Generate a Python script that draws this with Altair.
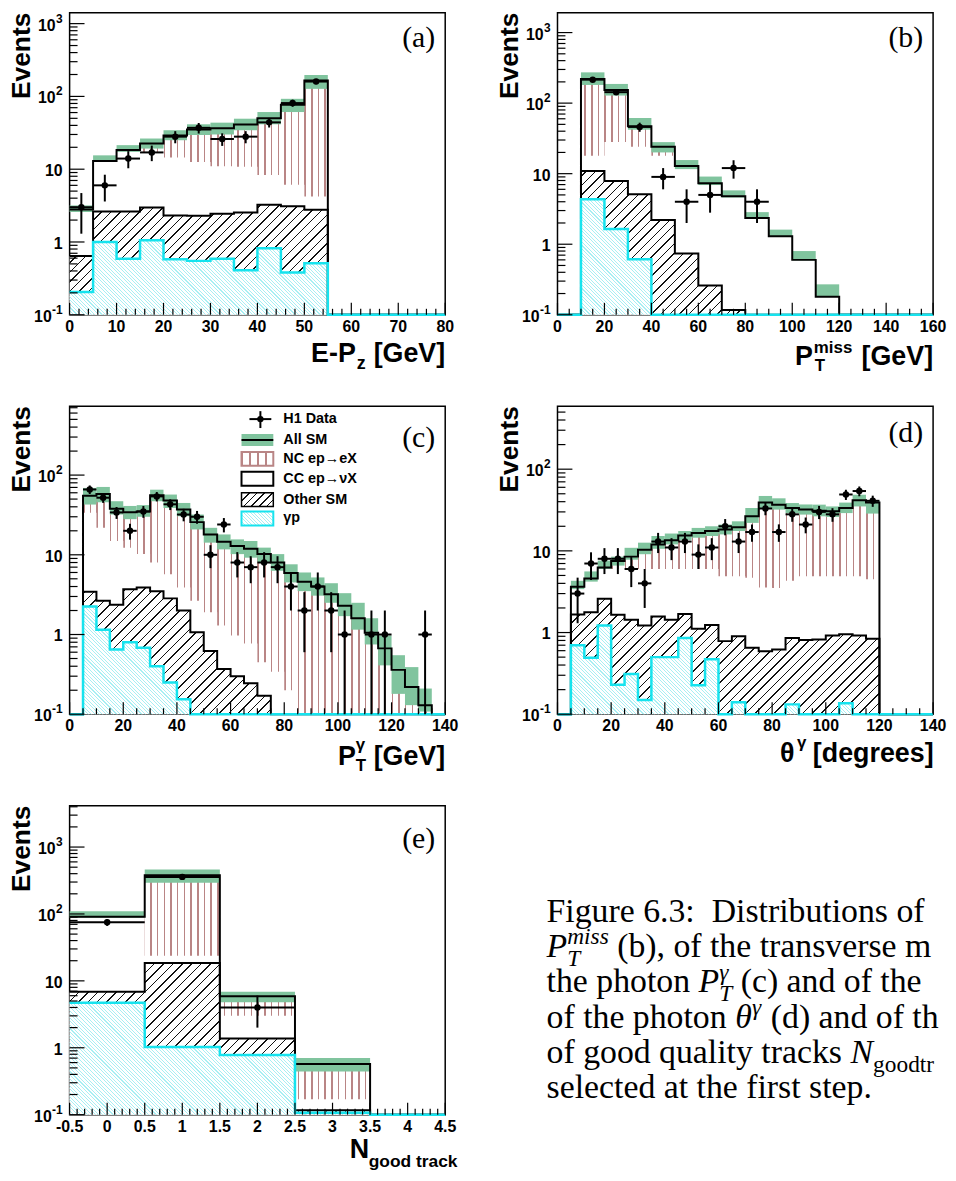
import math
import altair as alt
import pandas as pd

FLOOR = 0.1
Y_DECADES = [0.1, 1, 10, 100, 1000]
Y_BASE = ["10", "1", "10", "10", "10"]
Y_SUP = ["-1", "", "", "2", "3"]

# ---------------- (a) E - Pz ----------------
A_X0, A_BW = 0, 5
A_ALLSM = [2.8, 13.0, 18.3, 22.5, 29, 35, 36.5, 41, 50, 77, 165]
A_BAND_LO = [2.58, 12.6, 17.3, 19.2, 25, 29.5, 30, 34.3, 41.4, 61, 127]
A_BAND_HI = [3.18, 15.5, 21.4, 26.4, 34.3, 41.4, 43.6, 49.4, 61, 92.7, 197]
A_NC_LO = [None, None, None, 17, 14.5, 12.6, 11, 10.8, 8.3, 6.1, 4.2]
A_OTHER = [0.64, 2.63, 2.63, 2.98, 2.32, 2.3, 2.44, 2.55, 3.24, 3.1, 2.77]
A_GAMMAP = [0.206, 1.0, 0.59, 1.06, 0.58, 0.55, 0.59, 0.41, 0.82, 0.38, 0.51]
A_DATA = [3, 6, 14, 17, 28, 37, 26, 28, 44, 81, 160]
A_DATA_ERR = [1.7, 2.4, 3.7, 4.1, 5.3, 6.1, 5.1, 5.3, 6.6, 9.0, 12.6]
A_XTICKS = [0, 10, 20, 30, 40, 50, 60, 70, 80]
A_XMINOR = 2

# ---------------- (b) PT miss ----------------
B_X0, B_BW = 10, 10
B_ALLSM = [220, 154, 47, 24, 12.8, 7.3, 4.8, 2.35, 1.3, 0.6, 0.18]
B_BAND_LO = [181, 128, 42, 20, 11.6, 6.9, 4.6, 2.3, 1.28, 0.59, 0.18]
B_BAND_HI = [273, 187, 61.5, 28, 15.6, 9.1, 5.8, 2.85, 1.61, 0.8, 0.27]
B_NC_LO = [18, 28, 24, 18, None, None, None, None, None, None, None]
B_OTHER = [10.9, 7.9, 5.1, 2.2, 0.74, 0.26, 0.117, 0.1, 0.1, 0.1, 0.1]
B_GAMMAP = [4.35, 1.64, 0.61, 0.1, 0.1, 0.1, 0.1, 0.1, 0.1, 0.1, 0.1]
B_DATA = [215, 143, 46, 9, 4, 5, 12, 4, None, None, None]
B_DATA_ERR = [14.7, 12, 6.8, 3, 2, 2.2, 3.5, 2, None, None, None]
B_XTICKS = [0, 20, 40, 60, 80, 100, 120, 140, 160]
B_XMINOR = 5

# ---------------- (c) PT gamma ----------------
C_X0, C_BW = 5, 5
C_ALLSM = [55, 58, 37.7, 34.2, 35, 56, 47.9, 36.9, 25.7, 18, 14.6, 12.9, 11.9,
           10.2, 8, 5.9, 4.6, 4.0, 3.2, 2.3, 1.6, 1.05, 0.67, 0.36, 0.22, 0.13]
C_BAND_LO = [42.7, 45.6, 32, 28, 30, 47, 38.7, 30.5, 20.8, 14.2, 11.7, 10.2, 9.2,
             8, 6.3, 4.5, 3.5, 3.07, 2.5, 1.7, 1.15, 0.75, 0.41, 0.18, 0.13, 0.108]
C_BAND_HI = [69, 71, 47, 41, 42, 65.6, 57, 44.7, 32, 21.8, 18, 15.6, 14.9,
             12.3, 10.2, 7.6, 6, 5.2, 4.4, 3.3, 2.5, 1.6, 0.97, 0.55, 0.39, 0.21]
C_NC_LO = [33.6, 21.8, 14.9, 12.3, 10.2, 8, 5.7, 3.9, 2.66, 1.9, 1.3, 0.97, 0.77,
           0.45, 0.34, 0.2, 0.1, 0.1, 0.1, 0.1, 0.1, 0.1, 0.1, 0.1, 0.1, 0.1]
C_OTHER = [3.44, 2.66, 2.37, 3.7, 3.9, 3.5, 2.84, 2.0, 1.07, 0.62, 0.37, 0.3, 0.245,
           0.17, 0.1, 0.1, 0.1, 0.1, 0.1, 0.1, 0.1, 0.1, 0.1, 0.1, 0.1, 0.1]
C_GAMMAP = [2.24, 1.15, 0.65, 0.8, 0.68, 0.40, 0.25, 0.154, 0.1, 0.1, 0.1, 0.1, 0.1,
            0.1, 0.1, 0.1, 0.1, 0.1, 0.1, 0.1, 0.1, 0.1, 0.1, 0.1, 0.1, 0.1]
C_DATA = [66, 52, 34, 20, 35, 54, 43, 32, 30, 10, 24, 8, 7, 8, 7, 4, 2, 4, 2, 1,
          None, 1, 1, None, None, 1]
C_DATA_ERR = [8.1, 7.2, 5.8, 4.5, 5.9, 7.3, 6.6, 5.7, 5.5, 3.2, 4.9, 2.8, 2.6, 2.8,
              2.6, 2, 1.4, 2, 1.4, 1, None, 1, 1, None, None, 1]
C_XTICKS = [0, 20, 40, 60, 80, 100, 120, 140]
C_XMINOR = 5

# ---------------- (d) theta gamma ----------------
D_X0, D_BW = 5, 5
D_ALLSM = [3.64, 4.6, 6.25, 7.5, 8.5, 10.3, 12, 13.5, 15.4, 16.6, 17.5, 18.3, 19.5,
           26.5, 39, 36.8, 33.5, 32, 31, 30.5, 33.5, 41.6, 39]
D_BAND_LO = [3.4, 4.2, 6.0, 6.6, 7.8, 9.1, 10.6, 12, 13.6, 14.5, 15.2, 15.9, 17.5,
             22, 32.6, 32, 29, 27.8, 26.5, 26, 29, 35, 28.6]
D_BAND_HI = [4.3, 5.6, 7.6, 8.5, 10.9, 12.6, 15.2, 16.3, 17.5, 19.1, 20, 21, 23,
             33.5, 47, 44, 38.5, 37, 36.8, 35, 39, 48.7, 41.6]
D_NC_LO = [None, None, 6, 6, 6, 6, 6, 6, 6, 6, 6, 4.9, 4.9, 4.7, 3.56, 3.5, 4.3,
           4.9, 4.9, 4.9, 4.9, 4.9, 4.5]
D_OTHER = [1.66, 1.77, 2.6, 1.65, 1.43, 1.22, 1.57, 1.43, 1.69, 1.11, 1.24, 0.785,
           0.9, 0.65, 0.59, 0.62, 0.855, 0.81, 0.82, 0.92, 0.95, 0.92, 0.84]
D_GAMMAP = [0.70, 0.49, 1.22, 0.23, 0.31, 0.149, 0.50, 0.50, 0.855, 0.227, 0.47,
            0.1, 0.14, 0.1, 0.1, 0.1, 0.132, 0.1, 0.1, 0.1, 0.136, 0.1, 0.1]
D_DATA = [3, 7, 8, 8, 6, 4, 13, 11, 13, 9, 11, 20, 13, 17, 33, 17, 28, 21, 30, 28,
          49, 54, 41]
D_DATA_ERR = [1.7, 2.6, 2.8, 2.8, 2.4, 2, 3.6, 3.3, 3.6, 3, 3.3, 4.5, 3.6, 4.1,
              5.7, 4.1, 5.3, 4.6, 5.5, 5.3, 7, 7.4, 6.4]
D_XTICKS = [0, 20, 40, 60, 80, 100, 120, 140]
D_XMINOR = 5

# ---------------- (e) N good track ----------------
E_X0, E_BW = -0.5, 1
E_ALLSM = [91, 380, 5.9, 0.57]
E_BAND_LO = [88, 292, 4.8, 0.44]
E_BAND_HI = [110, 460, 6.9, 0.70]
E_NC_LO = [None, 23.8, 3.0, 0.17]
E_OTHER = [6.9, 18.5, 1.38, 0.116]
E_GAMMAP = [4.7, 1.03, 0.78, 0.107]
E_DATA = [75, 358, 4, None]
E_DATA_ERR = [8.7, 19, 2, None]
E_XTICKS = [-0.5, 0, 0.5, 1, 1.5, 2, 2.5, 3, 3.5, 4, 4.5]
E_XMINOR = 0.1

LEGEND = ["H1 Data", "All SM", "NC ep\u2192eX", "CC ep\u2192\u03bdX", "Other SM", "\u03b3p"]

SANS = "Liberation Sans"
SERIF = "Liberation Serif"
GREEN = "#80c49e"
NC_COL = "#b98585"
CYAN = "#16e3ee"
CYAN_H = "#a8eff3"
CLEAR = "rgba(255,255,255,0)"


def stripes(color, n, frac, x1, y1, x2, y2):
    stops = []
    for k in range(n):
        a = k / n
        c = (k + 1) / n
        b = min(a + frac, c)
        for col, off in ((color, a), (color, b), (CLEAR, b), (CLEAR, c)):
            stops.append(alt.GradientStop(color=col, offset=round(off, 6)))
    return alt.LinearGradient(gradient="linear", stops=stops,
                              x1=x1, y1=y1, x2=round(x2, 6), y2=round(y2, 6))


def vert_hatch(color, w, spacing, lw):
    n = max(1, round(w / spacing))
    return stripes(color, n, lw / w, 0, 0, 1, 0)


def diag_hatch(color, w, h, spacing, lw, back=False):
    h = max(h, 1.0)
    L = w + h
    n = max(1, round(L / spacing))
    s = L / (w * w + h * h)
    if back:
        return stripes(color, n, lw / L, 0, 1, s * w, 1 - s * h)
    return stripes(color, n, lw / L, 0, 0, s * w, s * h)


def frange(a, b, step):
    out = []
    k = 0
    while True:
        v = round(a + k * step, 6)
        if v > b + 1e-9:
            break
        out.append(v)
        k += 1
    return out


def text_layer(rows, **kw):
    df = pd.DataFrame(rows, columns=["t", "x", "y", "s"])
    return alt.Chart(df).mark_text(**kw).encode(
        x=alt.X("x:Q", scale=None, axis=None),
        y=alt.Y("y:Q", scale=None, axis=None),
        text="t:N",
        size=alt.Size("s:Q", scale=None, legend=None),
    )


def build_panel(p):
    W, H = p["W"], p["H"]
    xmin, xmax = p["xdom"]
    ymax = p["ymax"]
    lmin, lmax = math.log10(FLOOR), math.log10(ymax)

    def ypx(v):
        return H - (math.log10(v) - lmin) / (lmax - lmin) * H

    xs = alt.Scale(domain=[xmin, xmax], nice=False, zero=False)
    ys = alt.Scale(type="log", domain=[FLOOR, ymax], nice=False)

    def X(f):
        return alt.X(f, type="quantitative", scale=xs, axis=None)

    def Y(f):
        return alt.Y(f, type="quantitative", scale=ys, axis=None)

    x0, bw = p["x0"], p["bw"]
    n = len(p["allsm"])
    edges = [x0 + i * bw for i in range(n + 1)]

    def hist(vals, lows=None):
        rows = []
        if xmin < x0:
            rows.append((xmin, FLOOR, FLOOR))
        for i in range(n):
            lo = FLOOR if lows is None else lows[i]
            rows.append((edges[i], vals[i], lo))
        rows.append((edges[-1], FLOOR, FLOOR))
        if edges[-1] < xmax:
            rows.append((xmax, FLOOR, FLOOR))
        return pd.DataFrame(rows, columns=["x", "y", "lo"])

    layers = []
    nc_lows = [l if l is not None else a for l, a in zip(p["nc_lo"], p["allsm"])]
    layers.append(alt.Chart(hist(p["allsm"], nc_lows)).mark_area(
        interpolate="step-after", fill=vert_hatch(NC_COL, W, 6.7, 1.5), opacity=1
    ).encode(x=X("x"), y=Y("y"), y2=alt.Y2("lo")))
    h_o = H - ypx(max(p["other"]))
    odf = hist(p["other"])
    layers.append(alt.Chart(odf).mark_area(interpolate="step-after", color="white", opacity=1)
                  .encode(x=X("x"), y=Y("y"), y2=alt.Y2("lo")))
    layers.append(alt.Chart(odf).mark_area(
        interpolate="step-after", fill=diag_hatch("#111111", W, h_o, 9.5, 1.5), opacity=1
    ).encode(x=X("x"), y=Y("y"), y2=alt.Y2("lo")))
    h_g = H - ypx(max(p["gp"]))
    gdf = hist(p["gp"])
    layers.append(alt.Chart(gdf).mark_area(interpolate="step-after", color="white", opacity=1)
                  .encode(x=X("x"), y=Y("y"), y2=alt.Y2("lo")))
    layers.append(alt.Chart(gdf).mark_area(
        interpolate="step-after", fill=diag_hatch(CYAN_H, W, h_g, 3.6, 1.1, back=True), opacity=1
    ).encode(x=X("x"), y=Y("y"), y2=alt.Y2("lo")))
    bdf = pd.DataFrame({"x": edges[:-1], "xr": edges[1:], "lo": p["band_lo"], "hi": p["band_hi"]})
    layers.append(alt.Chart(bdf).mark_rect(color=GREEN, opacity=1).encode(
        x=X("x"), x2=alt.X2("xr"), y=Y("lo"), y2=alt.Y2("hi")))
    layers.append(alt.Chart(odf).mark_line(interpolate="step-after", color="black", strokeWidth=2)
                  .encode(x=X("x"), y=Y("y")))
    layers.append(alt.Chart(hist(p["allsm"])).mark_line(
        interpolate="step-after", color="black", strokeWidth=2).encode(x=X("x"), y=Y("y")))
    layers.append(alt.Chart(gdf).mark_line(interpolate="step-after", color=CYAN, strokeWidth=2.5)
                  .encode(x=X("x"), y=Y("y")))
    drows = []
    for i, (v, e) in enumerate(zip(p["data"], p["err"])):
        if v is None:
            continue
        drows.append({"xc": x0 + (i + 0.5) * bw, "v": v, "lo": max(v - e, FLOOR),
                      "hi": v + e, "xl": edges[i], "xr": edges[i + 1]})
    ddf = pd.DataFrame(drows)
    layers.append(alt.Chart(ddf).mark_rule(color="black", strokeWidth=2).encode(
        x=X("xc"), y=Y("lo"), y2=alt.Y2("hi")))
    layers.append(alt.Chart(ddf).mark_rule(color="black", strokeWidth=2).encode(
        x=X("xl"), x2=alt.X2("xr"), y=Y("v")))
    layers.append(alt.Chart(ddf).mark_circle(color="black", size=42, opacity=1).encode(
        x=X("xc"), y=Y("v")))

    ymaj = [v for v in Y_DECADES if v <= ymax]
    ymin_ = [m * d for d in Y_DECADES for m in range(2, 10) if m * d < ymax]
    layers.append(alt.Chart(pd.DataFrame({"v": ymaj})).mark_rule(color="black", strokeWidth=1.2)
                  .encode(y=Y("v"), x=alt.value(0), x2=alt.value(15)))
    layers.append(alt.Chart(pd.DataFrame({"v": ymin_})).mark_rule(color="black", strokeWidth=1.2)
                  .encode(y=Y("v"), x=alt.value(0), x2=alt.value(8)))
    xmaj = p["xticks"]
    xmin_ = [v for v in frange(xmin, xmax, p["xminor"])
             if all(abs(v - t) > 1e-6 for t in xmaj)]
    layers.append(alt.Chart(pd.DataFrame({"v": xmaj})).mark_rule(color="black", strokeWidth=1.2)
                  .encode(x=X("v"), y=alt.value(H), y2=alt.value(H - 12)))
    layers.append(alt.Chart(pd.DataFrame({"v": xmin_})).mark_rule(color="black", strokeWidth=1.2)
                  .encode(x=X("v"), y=alt.value(H), y2=alt.value(H - 6)))
    xl = pd.DataFrame({"v": xmaj, "t": [f"{v:g}" for v in xmaj]})
    layers.append(alt.Chart(xl).mark_text(font=SANS, fontWeight="bold", fontSize=16,
                                          baseline="alphabetic", align="center", color="black")
                  .encode(x=X("v"), y=alt.value(H + 17), text="t:N"))
    supw = {"-1": 11, "2": 7, "3": 7}
    yl = []
    for v, b, s in zip(Y_DECADES, Y_BASE, Y_SUP):
        if v > ymax:
            continue
        bx = -7 if not s else -8 - supw[s] + 1
        yl.append({"v": v, "b": b, "s": s, "bx": bx, "sx": -7})
    yldf = pd.DataFrame(yl)
    layers.append(alt.Chart(yldf).mark_text(font=SANS, fontWeight="bold", fontSize=16,
                                            baseline="middle", align="right", dy=2, color="black")
                  .encode(y=Y("v"), x=alt.X("bx:Q", scale=None, axis=None), text="b:N"))
    layers.append(alt.Chart(yldf[yldf["s"] != ""]).mark_text(
        font=SANS, fontWeight="bold", fontSize=12, baseline="middle", align="right", dy=-5,
        color="black").encode(y=Y("v"), x=alt.X("sx:Q", scale=None, axis=None), text="s:N"))
    layers.append(alt.Chart(pd.DataFrame({"t": ["Events"]})).mark_text(
        font=SANS, fontWeight="bold", fontSize=26.5, angle=270, align="right",
        baseline="alphabetic", color="black").encode(
        x=alt.value(-40), y=alt.value(0), text="t:N"))
    rows = [(t, x, H + y, s) for (t, x, y, s) in p["xtitle"]]
    layers.append(text_layer(rows, font=SANS, fontWeight="bold", align="left",
                             baseline="alphabetic", color="black"))
    layers.append(text_layer([(p["tag"], W - 10, p["tag_y"], 30)], font=SERIF,
                             align="right", baseline="alphabetic", color="black"))
    if p.get("legend"):
        layers += legend_layers()
    return alt.layer(*layers).properties(width=W, height=H)


def legend_layers():
    bx1, bx2 = 173, 205
    rows_y = [13, 34, 53, 73, 94, 113]
    out = []
    one = pd.DataFrame({"k": [0]})

    def rect(y1, y2, **kw):
        return alt.Chart(one).mark_rect(**kw).encode(
            x=alt.value(bx1), x2=alt.value(bx2), y=alt.value(y1), y2=alt.value(y2))

    out.append(alt.Chart(one).mark_rule(color="black", strokeWidth=2).encode(
        x=alt.value(181), x2=alt.value(203), y=alt.value(rows_y[0])))
    out.append(alt.Chart(one).mark_rule(color="black", strokeWidth=2).encode(
        x=alt.value(192), y=alt.value(rows_y[0] - 8), y2=alt.value(rows_y[0] + 9)))
    out.append(alt.Chart(one).mark_circle(color="black", size=42, opacity=1).encode(
        x=alt.value(192), y=alt.value(rows_y[0])))
    yc = rows_y[1]
    out.append(rect(yc - 6, yc + 6, color=GREEN, opacity=1))
    out.append(alt.Chart(one).mark_rule(color="black", strokeWidth=2).encode(
        x=alt.value(bx1), x2=alt.value(bx2), y=alt.value(yc)))
    yc = rows_y[2]
    out.append(rect(yc - 7, yc + 7, fill=vert_hatch(NC_COL, 32, 8, 1.5), opacity=1,
                    stroke=NC_COL, strokeWidth=2))
    yc = rows_y[3]
    out.append(rect(yc - 7, yc + 7, fill="white", stroke="black", strokeWidth=2))
    yc = rows_y[4]
    out.append(rect(yc - 7, yc + 7, fill=diag_hatch("#111111", 32, 14, 8, 1.4), opacity=1,
                    stroke="black", strokeWidth=1.5))
    yc = rows_y[5]
    out.append(rect(yc - 7, yc + 7, fill=diag_hatch(CYAN_H, 32, 14, 3.6, 1.1, back=True),
                    opacity=1, stroke=CYAN, strokeWidth=2))
    trows = [(t, 215, y, 14.5) for t, y in zip(LEGEND, rows_y)]
    out.append(text_layer(trows, font=SANS, fontWeight="bold", align="left",
                          baseline="middle", color="black"))
    return out


def ymax_for(H, px_per_decade):
    return 10 ** (-1 + H / px_per_decade)


PANELS = {
    "a": dict(W=378, H=304, xdom=(0, 80), ymax=ymax_for(304, 73.25), x0=A_X0, bw=A_BW,
              allsm=A_ALLSM, band_lo=A_BAND_LO, band_hi=A_BAND_HI, nc_lo=A_NC_LO,
              other=A_OTHER, gp=A_GAMMAP, data=A_DATA, err=A_DATA_ERR,
              xticks=A_XTICKS, xminor=A_XMINOR, tag="(a)", tag_y=35,
              xtitle=[("E-P", 243, 48, 27), ("z", 289, 55, 18), ("[GeV]", 306, 48, 27)]),
    "b": dict(W=378, H=304, xdom=(0, 160), ymax=ymax_for(304, 71.0), x0=B_X0, bw=B_BW,
              allsm=B_ALLSM, band_lo=B_BAND_LO, band_hi=B_BAND_HI, nc_lo=B_NC_LO,
              other=B_OTHER, gp=B_GAMMAP, data=B_DATA, err=B_DATA_ERR,
              xticks=B_XTICKS, xminor=B_XMINOR, tag="(b)", tag_y=35,
              xtitle=[("P", 239, 51, 27), ("miss", 258, 38, 17), ("T", 259, 57, 17),
                      ("[GeV]", 306, 51, 27)]),
    "c": dict(W=378, H=310, xdom=(0, 140), ymax=ymax_for(310, 80.22), x0=C_X0, bw=C_BW,
              allsm=C_ALLSM, band_lo=C_BAND_LO, band_hi=C_BAND_HI, nc_lo=C_NC_LO,
              other=C_OTHER, gp=C_GAMMAP, data=C_DATA, err=C_DATA_ERR,
              xticks=C_XTICKS, xminor=C_XMINOR, tag="(c)", tag_y=41, legend=True,
              xtitle=[("P", 270, 51, 27), ("\u03b3", 288, 36, 17), ("T", 288, 57, 17),
                      ("[GeV]", 306, 51, 27)]),
    "d": dict(W=378, H=310, xdom=(0, 140), ymax=ymax_for(310, 82.2), x0=D_X0, bw=D_BW,
              allsm=D_ALLSM, band_lo=D_BAND_LO, band_hi=D_BAND_HI, nc_lo=D_NC_LO,
              other=D_OTHER, gp=D_GAMMAP, data=D_DATA, err=D_DATA_ERR,
              xticks=D_XTICKS, xminor=D_XMINOR, tag="(d)", tag_y=36,
              xtitle=[("\u03b8", 224, 48, 27), ("\u03b3", 241, 34, 17),
                      ("[degrees]", 257, 48, 27)]),
    "e": dict(W=378, H=311, xdom=(-0.5, 4.5), ymax=ymax_for(311, 67.33), x0=E_X0, bw=E_BW,
              allsm=E_ALLSM, band_lo=E_BAND_LO, band_hi=E_BAND_HI, nc_lo=E_NC_LO,
              other=E_OTHER, gp=E_GAMMAP, data=E_DATA, err=E_DATA_ERR,
              xticks=E_XTICKS, xminor=E_XMINOR, tag="(e)", tag_y=43,
              xtitle=[("N", 282, 44, 27), ("good track", 301, 53, 17.5)]),
}

# ---------------- caption ----------------
CAP_LINES = [
    [("Figure 6.3:\u00a0 Distributions of E\u2212P", "r", "b")],
    [("P", "i", "b"), [("miss", "i", "sup"), ("T", "i", "sub")],
     (" (b), of the transverse momentum", "r", "b")],
    [("the photon ", "r", "b"), ("P", "i", "b"), [("\u03b3", "i", "sup"), ("T", "i", "sub")],
     (" (c) and of the polar angle", "r", "b")],
    [("of the photon ", "r", "b"), ("\u03b8", "i", "b"), [("\u03b3", "i", "sup")],
     (" (d) and of the number", "r", "b")],
    [("of good quality tracks ", "r", "b"), ("N", "i", "b"), [("goodtrack", "r", "sub")],
     (" (e) for events", "r", "b")],
    [("selected at the first step.", "r", "b")],
]
TIMES = {" ": 250, "\u00a0": 250, "(": 333, ")": 333, ",": 250, "-": 333, ".": 250,
         ":": 278, "\u2212": 564, "E": 611, "F": 556, "D": 722, "P": 556, "T": 611,
         "N": 722, "a": 444, "b": 500, "c": 444, "d": 500, "e": 444, "f": 333, "g": 500,
         "h": 500, "i": 278, "j": 278, "k": 500, "l": 278, "m": 778, "n": 500, "o": 500,
         "p": 500, "q": 500, "r": 333, "s": 389, "t": 278, "u": 500, "v": 500, "w": 722,
         "x": 500, "y": 500, "z": 444, "\u03b3": 430, "\u03b8": 500}
TIMES_I = {"P": 611, "T": 556, "N": 667, "m": 722, "i": 278, "s": 389, "\u03b3": 440,
           "\u03b8": 500}


def twidth(s, style, size):
    w = 0
    for ch in s:
        if ch.isdigit():
            w += 500
        elif style == "i" and ch in TIMES_I:
            w += TIMES_I[ch]
        else:
            w += TIMES.get(ch, 500)
    return w / 1000 * size


def caption_chart():
    CW, CH = 387, 311
    x_start = -11
    limit = CW - 1
    size, small = 34, 23.5
    reg, ita = [], []
    for li, line in enumerate(CAP_LINES):
        base = 117 + 35.5 * li
        cx = float(x_start)
        for piece in line:
            group = piece if isinstance(piece, list) else [piece]
            adv = 0
            for (t, style, pos) in group:
                sz = size if pos == "b" else small
                dy = {"b": 0, "sup": -13, "sub": 9}[pos]
                lead = len(t) - len(t.lstrip(" "))
                core = t.strip(" ")
                x = cx + twidth(" " * lead, "r", sz)
                while core and x + twidth(core, style, sz) > limit:
                    core = core[:-1].rstrip(" ")
                if core:
                    (ita if style == "i" else reg).append((core, x, base + dy, sz))
                adv = max(adv, twidth(t, style, sz))
            cx += adv
    l1 = text_layer(reg, font=SERIF, align="left", baseline="alphabetic", color="black")
    l2 = text_layer(ita, font=SERIF, fontStyle="italic", align="left",
                    baseline="alphabetic", color="black")
    return alt.layer(l1, l2).properties(
        width=CW, height=CH, view=alt.ViewBackground(stroke="transparent"))


pa = build_panel(PANELS["a"])
pb = build_panel(PANELS["b"])
pc = build_panel(PANELS["c"])
pd_ = build_panel(PANELS["d"])
pe = build_panel(PANELS["e"])
cap = caption_chart()

chart = alt.concat(pa, pb, pc, pd_, pe, cap, columns=2,
                   spacing=alt.RowColnumber(row=92, column=113),
                   bounds="flush").configure_view(
    stroke="black", strokeWidth=1.5).properties(padding=0, background="white")

chart.save("out.html", embed_options={"renderer": "svg", "actions": False})
